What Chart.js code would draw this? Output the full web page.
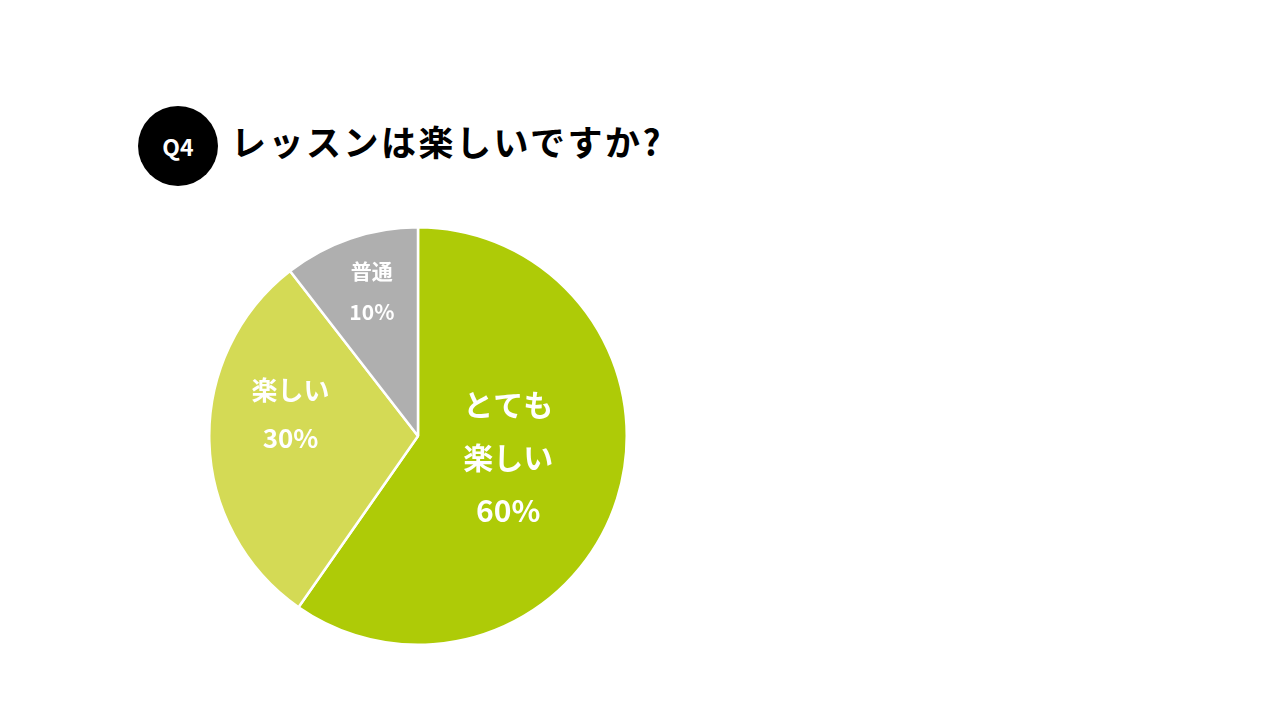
<!DOCTYPE html>
<html>
<head>
<meta charset="utf-8">
<script src="https://cdn.jsdelivr.net/npm/chart.js@4.4.0/dist/chart.umd.min.js"></script>
<style>
  body { margin: 0; width: 1280px; height: 720px; background: #fff; position: relative; overflow: hidden;
         font-family: "Noto Sans CJK JP", "Noto Sans", sans-serif; }
  .badge { position: absolute; left: 138px; top: 106px; width: 80px; height: 80px; border-radius: 50%;
           background: #000; color: #fff; font-weight: bold; font-size: 23px; line-height: 80px; text-align: center; }
  .title { position: absolute; left: 231px; top: 116px; font-size: 35px; font-weight: bold; color: #000;
           letter-spacing: 2.5px; line-height: 50px; }
  #wrap { position: absolute; left: 208px; top: 226px; width: 420px; height: 420px; }
</style>
</head>
<body>
<div class="badge">Q4</div>
<div class="title">レッスンは楽しいですか?</div>
<div id="wrap"><canvas id="chart"></canvas></div>
<script>
const categories = [['とても', '楽しい'], ['楽しい'], ['普通']];
const shares = [59.7, 29.8, 10.5];          // slice sizes as drawn
const shareLabels = ['60%', '30%', '10%'];  // printed values
const sliceColors = ['#aecb07', '#d4da55', '#afafaf'];

// label placement per slice: distance from centre (fraction of radius), angle tweak (deg), font size, line gap
const labelStyle = [
    { r: 0.444, tilt: -4.3, size: 30, gap: 53 },
    { r: 0.62, tilt: 11.3, size: 26, gap: 48 },
    { r: 0.727, tilt: 1.2, size: 21, gap: 41 }
];

const sliceLabels = {
    id: 'sliceLabels',
    afterDatasetsDraw(chart) {
        const ctx = chart.ctx;
        const arcs = chart.getDatasetMeta(0).data;
        arcs.forEach((arc, i) => {
            const st = labelStyle[i];
            const mid = (arc.startAngle + arc.endAngle) / 2 + st.tilt * Math.PI / 180;
            const cx = arc.x + Math.cos(mid) * arc.outerRadius * st.r;
            const cy = arc.y + Math.sin(mid) * arc.outerRadius * st.r;
            const lines = categories[i].concat([shareLabels[i]]);
            ctx.save();
            ctx.fillStyle = '#fff';
            ctx.textAlign = 'center';
            ctx.textBaseline = 'middle';
            ctx.font = 'bold ' + st.size + 'px "Noto Sans CJK JP"';
            const top = cy - (lines.length - 1) * st.gap / 2;
            lines.forEach((ln, k) => {
                ctx.fillText(ln, cx, top + k * st.gap);
            });
            ctx.restore();
        });
    }
};

new Chart(document.getElementById('chart'), {
    type: 'pie',
    data: {
        labels: categories.map(c => c.join('')),
        datasets: [{
            data: shares,
            backgroundColor: sliceColors,
            borderColor: '#ffffff',
            borderWidth: 2.5
        }]
    },
    options: {
        responsive: true,
        maintainAspectRatio: false,
        animation: false,
        layout: { padding: 0 },
        plugins: {
            legend: { display: false },
            tooltip: { enabled: false }
        }
    },
    plugins: [sliceLabels]
});
</script>
</body>
</html>
